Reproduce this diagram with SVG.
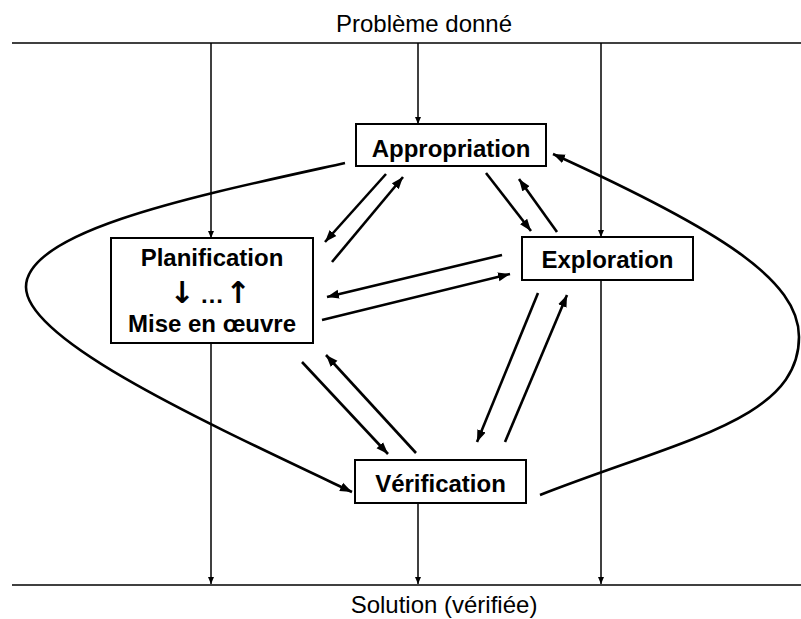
<svg xmlns="http://www.w3.org/2000/svg" width="801" height="619" viewBox="0 0 801 619">
<defs>
<marker id="ah" markerUnits="userSpaceOnUse" markerWidth="13" markerHeight="10" refX="12" refY="5" orient="auto">
<path d="M0,0.5 L12,5 L0,9.5 z" fill="#000"/>
</marker>
<marker id="as" markerUnits="userSpaceOnUse" markerWidth="8" markerHeight="7" refX="7" refY="3.5" orient="auto">
<path d="M0,0.5 L7,3.5 L0,6.5 z" fill="#000"/>
</marker>
<style>
.box{fill:#fff;stroke:#000;stroke-width:2}
.lbl{font-family:"Liberation Sans",Arial,sans-serif;font-size:24px;font-weight:bold;fill:#000;text-anchor:middle}
.glyph{font-family:"DejaVu Sans",sans-serif;font-size:30px;font-weight:bold;fill:#000}
.plain{font-family:"Liberation Sans",Arial,sans-serif;font-size:24px;fill:#000;text-anchor:middle}
.thin{stroke:#000;stroke-width:1.5;fill:none}
.vl{stroke:#000;stroke-width:1.5;fill:none;marker-end:url(#as)}
.arr{stroke:#000;stroke-width:2.6;fill:none;marker-end:url(#ah)}
</style>
</defs>
<rect width="801" height="619" fill="#fff"/>
<g id="frame">
<line class="thin" x1="12" y1="43" x2="801" y2="43"/>
<line class="thin" x1="12" y1="585" x2="801" y2="585"/>
<text class="plain" x="424" y="32">Problème donné</text>
<text class="plain" x="444" y="613">Solution (vérifiée)</text>
</g>
<g id="connectors">
<path class="vl" d="M211,43 V238"/>
<path class="vl" d="M211,343 V584"/>
<path class="vl" d="M418,43 V124"/>
<path class="vl" d="M418,503 V584"/>
<path class="vl" d="M601,43 V237"/>
<path class="vl" d="M601,280 V584"/>
<path class="arr" d="M386,174 L325,242"/>
<path class="arr" d="M332,262 L403,177"/>
<path class="arr" d="M486,173 L531,231"/>
<path class="arr" d="M557,232 L519,179"/>
<path class="arr" d="M502,255 L327,297"/>
<path class="arr" d="M322,320 L510,274"/>
<path class="arr" d="M302,362 L388,454"/>
<path class="arr" d="M416,453 L326,355"/>
<path class="arr" d="M538,293 L477,442"/>
<path class="arr" d="M505,442 L567,295"/>
<path class="arr" d="M345,163 C200,195 26,230 26,287 C26,340 200,420 352,492"/>
<path class="arr" d="M540,495 C680,440 799,420 799,337 C799,280 720,230 553,154"/>
</g>
<g id="appropriation">
<rect class="box" x="356" y="124" width="190" height="42"/>
<text class="lbl" x="451" y="157">Appropriation</text>
</g>
<g id="planification">
<rect class="box" x="111" y="238" width="202" height="105"/>
<text class="lbl" x="212" y="266">Planification</text>
<text class="lbl" y="303"><tspan class="glyph" x="182">↓</tspan><tspan x="212">…</tspan><tspan class="glyph" x="238">↑</tspan></text>
<text class="lbl" x="212" y="332">Mise en œuvre</text>
</g>
<g id="exploration">
<rect class="box" x="522" y="237" width="171" height="43"/>
<text class="lbl" x="607.5" y="268">Exploration</text>
</g>
<g id="verification">
<rect class="box" x="355" y="460" width="171" height="43"/>
<text class="lbl" x="440.5" y="492">Vérification</text>
</g>
</svg>
